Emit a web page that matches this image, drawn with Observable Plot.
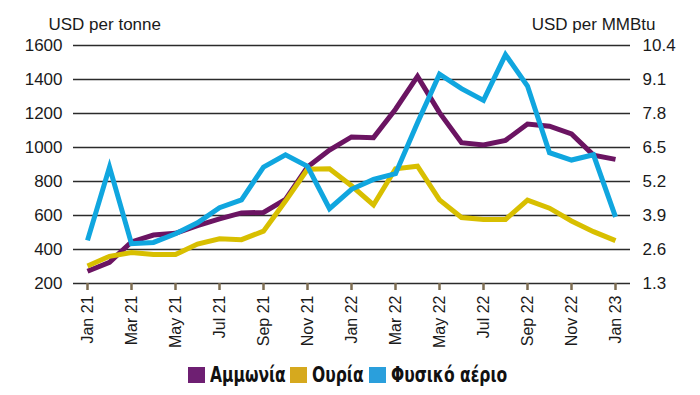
<!DOCTYPE html>
<html>
<head>
<meta charset="utf-8">
<script src="https://cdn.jsdelivr.net/npm/d3@7"></script>
<script src="https://cdn.jsdelivr.net/npm/@observablehq/plot@0.6"></script>
<style>
  html, body { margin: 0; padding: 0; background: #fff; }
  #wrap { width: 700px; height: 395px; position: relative; font-family: "Liberation Sans", Arial, sans-serif; }
  #legend { position: absolute; top: 363px; left: 0; width: 700px; display: flex; justify-content: center; align-items: center;
    font-family: "DejaVu Sans", sans-serif; font-weight: bold; font-size: 21px; color: #111; white-space: nowrap; }
  .item { display: flex; align-items: center; margin-right: 5px; }
  .sw { width: 17px; height: 16px; margin-right: 5px; flex: none; }
  .tx { display: inline-block; transform-origin: left center; }
</style>
</head>
<body>
<div id="wrap"></div>
<script>
const months = ["Jan 21","Feb 21","Mar 21","Apr 21","May 21","Jun 21","Jul 21","Aug 21","Sep 21","Oct 21","Nov 21","Dec 21",
                "Jan 22","Feb 22","Mar 22","Apr 22","May 22","Jun 22","Jul 22","Aug 22","Sep 22","Oct 22","Nov 22","Dec 22","Jan 23"];
const tickLabels = ["Jan 21","Mar 21","May 21","Jul 21","Sep 21","Nov 21","Jan 22","Mar 22","May 22","Jul 22","Sep 22","Nov 22","Jan 23"];
// USD per tonne
const ammonia = [272, 325, 445, 485, 495, 540, 580, 615, 618, 695, 885, 985, 1062, 1058, 1225, 1418, 1205, 1028, 1015, 1042, 1138, 1125, 1080, 955, 930];
const urea    = [303, 360, 382, 370, 370, 432, 463, 458, 508, 685, 872, 875, 775, 662, 875, 890, 692, 588, 577, 577, 690, 643, 568, 505, 452];
// USD per MMBtu
const gas     = [2.95, 5.75, 2.82, 2.87, 3.2, 3.62, 4.2, 4.5, 5.75, 6.22, 5.78, 4.16, 4.9, 5.28, 5.5, 7.45, 9.3, 8.75, 8.3, 10.05, 8.85, 6.3, 6.02, 6.22, 3.85];
const leftTicks = [200, 400, 600, 800, 1000, 1200, 1400, 1600];
const rightTickLabels = ["1.3", "2.6", "3.9", "5.2", "6.5", "7.8", "9.1", "10.4"];
const seriesNames = ["Αμμωνία", "Ουρία", "Φυσικό αέριο"];
const seriesColors = ["#6b1462", "#d8bf00", "#10a6df"];
const legendColors = ["#6e1f72", "#d6a91e", "#2a9fdc"];

const ratio = 1.3 / 200; // MMBtu scale per tonne-scale unit
const rows = [];
months.forEach((m, i) => {
  rows.push({month: m, value: ammonia[i], series: seriesNames[0]});
  rows.push({month: m, value: urea[i], series: seriesNames[1]});
  rows.push({month: m, value: gas[i] / ratio, series: seriesNames[2]});
});

const lineStyle = {strokeWidth: 5, strokeLinejoin: "miter", strokeLinecap: "butt", strokeMiterlimit: 10};

const chart = Plot.plot({
  width: 700,
  height: 355,
  marginTop: 45,
  marginBottom: 72,
  marginLeft: 73,
  marginRight: 70,
  style: {fontFamily: "'Liberation Sans', Arial, sans-serif", fontSize: "17px", color: "#1a1a1a", background: "#fff"},
  x: {type: "point", domain: months, padding: 0, insetLeft: 10, insetRight: 11},
  y: {domain: [200, 1600]},
  marks: [
    Plot.ruleY(leftTicks, {stroke: "#2b2b2b", strokeWidth: 1.6}),
    Plot.axisY({anchor: "left", ticks: leftTicks, tickSize: 0, tickPadding: 11, label: null, fontSize: 17,
      tickFormat: (d) => String(d)}),
    Plot.axisY({anchor: "right", ticks: leftTicks, tickSize: 0, tickPadding: 12, label: null, fontSize: 17,
      tickFormat: (d) => rightTickLabels[leftTicks.indexOf(d)]}),
    Plot.axisX({ticks: tickLabels, tickSize: 7, tickPadding: 5, tickRotate: -90, label: null, fontSize: 16,
      stroke: "#7d6d52", strokeWidth: 2.5}),
    Plot.line(rows.filter(d => d.series === seriesNames[0]), {x: "month", y: "value", stroke: seriesColors[0], ...lineStyle}),
    Plot.line(rows.filter(d => d.series === seriesNames[1]), {x: "month", y: "value", stroke: seriesColors[1], ...lineStyle}),
    Plot.line(rows.filter(d => d.series === seriesNames[2]), {x: "month", y: "value", stroke: seriesColors[2], ...lineStyle}),
    Plot.text(["USD per tonne"], {frameAnchor: "top-left", dx: -25, dy: -28, fontSize: 17, fill: "#1a1a1a", textAnchor: "start"}),
    Plot.text(["USD per MMBtu"], {frameAnchor: "top-right", dx: 25, dy: -28, fontSize: 17, fill: "#1a1a1a", textAnchor: "end"})
  ]
});

const wrap = document.getElementById("wrap");
wrap.appendChild(chart);
const legend = document.createElement("div");
legend.id = "legend";
const texts = [];
seriesNames.forEach((n, i) => {
  const it = document.createElement("div");
  it.className = "item";
  const sw = document.createElement("span");
  sw.className = "sw";
  sw.style.background = legendColors[i];
  const t = document.createElement("span");
  t.className = "tx";
  t.textContent = n;
  it.appendChild(sw); it.appendChild(t);
  legend.appendChild(it);
  texts.push(t);
});
wrap.appendChild(legend);
// condense the bold legend text horizontally
const condense = 0.74;
texts.forEach(t => {
  const w = t.getBoundingClientRect().width;
  t.style.transform = `scaleX(${condense})`;
  t.style.marginRight = `${-(1 - condense) * w}px`;
});
</script>
</body>
</html>
